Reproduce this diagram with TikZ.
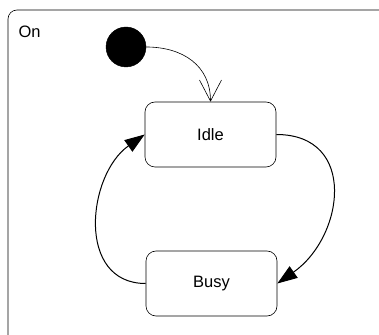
\documentclass[tikz,border=0pt]{standalone}
\usepackage{fontspec}
\setmainfont{Liberation Sans}
\usetikzlibrary{arrows.meta}
\tikzstyle{state} = [rectangle, rounded corners=10pt,
                     minimum width=131pt, minimum height=65pt,
                     text centered, draw=black, fill=white,
                     line width=0.6pt, font=\fontsize{16.5}{19}\selectfont]
\tikzstyle{initial} = [circle, fill=black, draw=black,
                       minimum size=40pt, inner sep=0pt]
\tikzstyle{initarrow} = [line width=0.6pt,-{Straight Barb[length=21pt,width=22pt]}]
\tikzstyle{trans} = [line width=1pt,-{Triangle[length=20pt,width=14pt]}]

\begin{document}
\begin{tikzpicture}[x=1pt, y=1pt]

        \clip (0,0) rectangle (379,334);

        \draw [line width=0.6pt, rounded corners=9pt] (8,-20) rectangle (400,324);
        \node (OnLabel) [anchor=west, font=\fontsize{16.5}{19}\selectfont] at (15,302) {On};

        \node (Init) [initial, xshift=126pt, yshift=287pt] {};

        \node (Idle) [state, xshift=210.5pt, yshift=199.5pt] {Idle};

        \node (Busy) [state, xshift=211.5pt, yshift=50.5pt] {Busy};


        \draw [initarrow] (Init.east) to[out=0, in=90, looseness=1.1] (Idle.north);
        \draw [trans] (Idle.east) to[out=0, in=35, looseness=1.4] (Busy.east);
        \draw [trans] (Busy.west) to[out=180, in=215, looseness=1.2] (Idle.west);



    \end{tikzpicture}
\end{document}
